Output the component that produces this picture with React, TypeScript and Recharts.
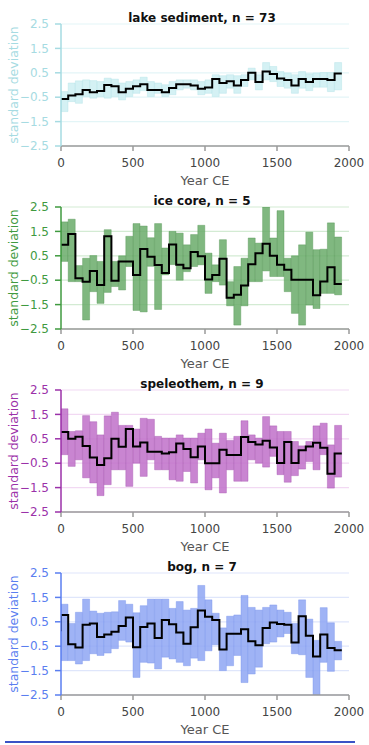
import React from 'react';
import { ComposedChart, Bar, Line, XAxis, YAxis, CartesianGrid } from 'recharts';

// ---- categories / ticks ----
const binStart = [
  0, 50, 100, 150, 200, 250, 300, 350, 400, 450,
  500, 550, 600, 650, 700, 750, 800, 850, 900, 950,
  1000, 1050, 1100, 1150, 1200, 1250, 1300, 1350, 1400, 1450,
  1500, 1550, 1600, 1650, 1700, 1750, 1800, 1850, 1900,
];
const BIN_WIDTH = 50;
const xTicks = [0, 500, 1000, 1500, 2000];
const yTicks = [-2.5, -1.5, -0.5, 0.5, 1.5, 2.5];

// ---- lake sediment ----
const lakeMean = [-0.57, -0.43, -0.38, -0.2, -0.3, -0.25, 0.0, -0.05, -0.3, -0.15, -0.05, 0.03, -0.2, -0.2, -0.3, -0.12, 0.03, 0.03, -0.02, -0.15, -0.1, 0.25, 0.08, 0.15, -0.02, 0.2, 0.5, 0.12, 0.55, 0.45, 0.27, 0.2, -0.02, 0.25, 0.12, 0.25, 0.25, 0.2, 0.47];
const lakeLow = [-1.09, -0.68, -0.75, -0.47, -0.54, -0.47, -0.54, -0.47, -0.61, -0.47, -0.34, -0.23, -0.47, -0.34, -0.47, -0.4, -0.2, -0.13, -0.2, -0.4, -0.34, -0.47, -0.34, -0.13, -0.34, -0.06, 0.21, -0.2, 0.21, 0.14, -0.06, -0.13, -0.34, -0.13, -0.23, -0.09, -0.09, -0.27, -0.2];
const lakeHigh = [-0.27, 0.08, 0.17, 0.21, 0.18, 0.14, 0.28, 0.24, 0.08, 0.14, 0.21, 0.32, 0.14, 0.08, 0.01, 0.14, 0.21, 0.21, 0.21, 0.14, 0.21, 0.42, 0.38, 0.42, 0.38, 0.42, 0.69, 0.42, 0.92, 0.76, 0.55, 0.49, 0.42, 0.55, 0.46, 0.49, 0.51, 0.51, 0.92];

// ---- ice core ----
const iceMean = [0.95, 1.39, -0.42, -0.56, -0.12, -0.7, 1.3, -0.52, 0.27, 0.27, -0.29, 0.78, 0.46, 0.12, -0.21, 0.96, 0.13, -0.01, 0.66, 0.48, -0.47, -0.29, 0.38, -1.22, -1.1, -0.72, 0.15, 0.6, 0.99, 0.5, 0.13, -0.07, -0.48, -0.48, -0.48, -1.12, -0.55, 0.03, -0.66];
const iceLow = [0.27, -0.56, -0.56, -2.13, -0.97, -1.45, -1.0, -0.76, -0.9, 0.06, -1.74, -1.8, 0.07, -1.7, -0.28, 0.14, -0.5, -0.15, 0.06, 0.13, -1.04, -0.56, -0.7, -1.55, -2.34, -1.55, -0.56, -0.56, -0.12, -0.35, -0.35, -0.97, -1.86, -2.34, -1.52, -1.66, -1.04, -1.04, -1.1];
const iceHigh = [1.89, 2.0, 0.1, 0.4, 0.51, 0.27, 1.57, 0.27, 0.5, 1.3, 1.82, 1.72, 1.24, 1.82, 0.82, 1.5, 1.43, 0.95, 1.37, 1.75, 0.61, 0.13, 1.16, -0.56, 0.06, 0.4, 1.23, 1.02, 2.5, 1.23, 2.35, 0.4, 0.5, 0.95, 1.47, 0.75, 0.77, 1.85, 1.27];

// ---- speleothem ----
const speMean = [0.78, 0.5, 0.58, 0.2, -0.27, -0.57, -0.3, 0.5, 0.17, 0.9, 0.18, 0.35, -0.03, -0.03, -0.1, -0.05, 0.31, 0.08, -0.26, 0.18, -0.5, -0.5, 0.05, -0.16, -0.16, 0.57, 0.37, 0.27, 0.42, 0.14, -0.49, 0.37, -0.49, 0.03, 0.18, 0.34, 0.13, -0.93, -0.1];
const speLow = [-0.15, -0.63, -0.36, -1.1, -1.31, -1.83, -1.38, -0.77, -0.77, -1.45, -0.5, -1.04, -0.36, -0.77, -0.77, -1.18, -1.24, -0.84, -1.31, -0.36, -1.59, -1.1, -1.72, -0.77, -1.24, -1.24, -0.36, -0.5, -0.66, -0.22, -0.97, -1.28, -1.01, -0.74, -0.43, -0.77, -0.15, -1.52, -1.07];
const speHigh = [1.73, 0.8, 0.83, 1.45, 1.2, 0.66, 1.44, 1.59, 1.05, 1.05, 0.9, 1.34, 1.3, 0.6, 0.53, 0.53, 0.66, 0.53, 0.53, 0.73, 0.9, 0.32, 0.73, 0.43, 0.6, 1.24, 0.66, 0.53, 1.41, 1.03, 0.8, 0.8, 0.39, 0.21, 0.39, 1.03, 1.14, 0.25, 1.05];

// ---- bog ----
const bogLead = 0.11;
const bogMean = [0.78, -0.42, -0.55, 0.38, 0.43, -0.12, -0.02, 0.09, 0.33, 0.68, -0.54, 0.29, 0.43, -0.16, 0.57, 0.4, 0.06, -0.4, 0.28, 0.96, 0.71, 0.57, -0.64, 0.01, 0.01, 0.19, -0.3, -0.46, 0.25, 0.47, 0.41, 0.38, -0.35, 0.73, -0.07, -0.92, -0.02, -0.57, -0.67];
const bogLow = [-1.09, -1.09, -1.23, -1.09, -0.81, -0.88, -0.78, -0.6, -0.26, -0.33, -1.78, -1.16, -1.19, -1.43, -0.95, -1.02, -1.16, -1.3, -0.99, -1.09, -0.69, -0.44, -1.5, -1.3, -0.88, -1.99, -1.64, -1.36, -0.4, -0.33, -0.12, 0.02, -0.81, -0.85, -1.78, -2.5, -1.16, -1.53, -1.06];
const bogHigh = [1.22, 0.43, 0.89, 1.43, 0.94, 0.85, 0.89, 0.91, 1.37, 1.22, 0.87, 1.16, 1.43, 1.43, 1.43, 1.05, 1.33, 0.98, 1.05, 1.99, 1.4, 0.85, 0.25, 0.73, 0.78, 1.58, 1.09, 0.98, 1.09, 1.19, 0.98, 0.89, 0.43, 1.4, 0.61, -0.26, 1.08, 0.46, -0.3];

type Theme = { text: string; fill: string; stroke: string; grid: string };

const themes: Record<string, Theme> = {
  lake: { text: '#a6dbe2', fill: '#cdeef2', stroke: '#b0e0e6', grid: '#e3f5f7' },
  ice: { text: '#3f9a3f', fill: '#6aab6a', stroke: '#4f934f', grid: '#d3ebd3' },
  spe: { text: '#9b31a9', fill: '#bf70c9', stroke: '#a553b0', grid: '#f2d9f3' },
  bog: { text: '#5a7ef0', fill: '#8ea6f3', stroke: '#7590ea', grid: '#dfe6fb' },
};

function buildBars(low: number[], high: number[]) {
  return binStart.map((s, i) => ({ x: s + BIN_WIDTH / 2, range: [low[i], high[i]] }));
}

function buildLine(mean: number[], lead?: number) {
  const pts = binStart.map((s, i) => ({ x: s, v: mean[i] }));
  const last = binStart.length - 1;
  pts.push({ x: binStart[last] + BIN_WIDTH, v: mean[last] });
  if (lead !== undefined) pts.unshift({ x: binStart[0], v: lead });
  return pts;
}

const fmtY = (v: number) => (v < 0 ? '\u2212' + Math.abs(v) : String(v));

const FONT = '"DejaVu Sans", Verdana, sans-serif';

function Panel(props: {
  top: number;
  title: string;
  mean: number[];
  low: number[];
  high: number[];
  lead?: number;
  theme: Theme;
}) {
  const { top, title, mean, low, high, lead, theme } = props;
  const bars = buildBars(low, high);
  const line = buildLine(mean, lead);
  const yLabel = (p: any) => {
    const vb = p.viewBox || {};
    const cx = 13;
    const cy = (vb.y || 0) + (vb.height || 0) / 2;
    return (
      <text
        x={cx}
        y={cy}
        transform={`rotate(-90, ${cx}, ${cy})`}
        textAnchor="middle"
        dominantBaseline="central"
        fill={theme.text}
        fontSize={12.5}
        fontFamily={FONT}
      >
        standard deviation
      </text>
    );
  };
  return (
    <div style={{ position: 'absolute', left: 0, top, width: 369, height: 200, fontFamily: FONT }}>
      <ComposedChart
        width={369}
        height={200}
        data={bars}
        margin={{ top: 24, right: 20, bottom: 14, left: 0 }}
        barCategoryGap={0}
        barGap={0}
      >
        <CartesianGrid
          xAxisId="line"
          vertical={false}
          stroke={theme.grid}
          strokeWidth={1.2}
        />
        <XAxis
          xAxisId="bar"
          type="number"
          dataKey="x"
          domain={[0, 2000]}
          allowDataOverflow
          orientation="top"
          height={0}
          hide
        />
        <XAxis
          xAxisId="line"
          type="number"
          dataKey="x"
          domain={[0, 2000]}
          allowDataOverflow
          ticks={xTicks}
          interval={0}
          height={40}
          tickSize={5}
          tickMargin={7}
          stroke="#9a9a9a"
          strokeWidth={1.5}
          tick={{ fill: '#444', fontSize: 12, fontFamily: FONT }}
          label={{ value: 'Year CE', position: 'insideBottom', offset: 1, fill: '#555', fontSize: 13, fontFamily: FONT }}
        />
        <YAxis
          type="number"
          domain={[-2.5, 2.5]}
          ticks={yTicks}
          interval={0}
          allowDataOverflow
          width={61}
          tickSize={6}
          tickMargin={6}
          stroke={theme.text}
          strokeWidth={1.5}
          tickFormatter={fmtY}
          tick={{ fill: theme.text, fontSize: 12, fontFamily: FONT }}
          label={{ value: 'standard deviation', content: yLabel }}
        />
        <Bar
          xAxisId="bar"
          dataKey="range"
          fill={theme.fill}
          fillOpacity={0.85}
          stroke={theme.stroke}
          strokeOpacity={0.5}
          strokeWidth={0.8}
          isAnimationActive={false}
        />
        <Line
          xAxisId="line"
          data={line}
          dataKey="v"
          type="stepAfter"
          stroke="#000"
          strokeWidth={2}
          dot={false}
          activeDot={false}
          isAnimationActive={false}
        />
      </ComposedChart>
      <div
        style={{
          position: 'absolute',
          left: 0,
          top: 10.5,
          width: 404,
          textAlign: 'center',
          fontWeight: 'bold',
          fontSize: 12,
          lineHeight: '14px',
          color: '#111',
          fontFamily: FONT,
        }}
      >
        {title}
      </div>
    </div>
  );
}

export default function App() {
  return (
    <div style={{ position: 'absolute', left: 0, top: 0, width: 369, height: 745, background: '#fff', overflow: 'hidden' }}>
      <Panel top={0} title="lake sediment, n = 73" mean={lakeMean} low={lakeLow} high={lakeHigh} theme={themes.lake} />
      <Panel top={183} title="ice core, n = 5" mean={iceMean} low={iceLow} high={iceHigh} theme={themes.ice} />
      <Panel top={366} title="speleothem, n = 9" mean={speMean} low={speLow} high={speHigh} theme={themes.spe} />
      <Panel top={549} title="bog, n = 7" mean={bogMean} low={bogLow} high={bogHigh} lead={bogLead} theme={themes.bog} />
      <div style={{ position: 'absolute', left: 5, top: 741, width: 350, height: 2, background: '#3a52c6' }} />
    </div>
  );
}
